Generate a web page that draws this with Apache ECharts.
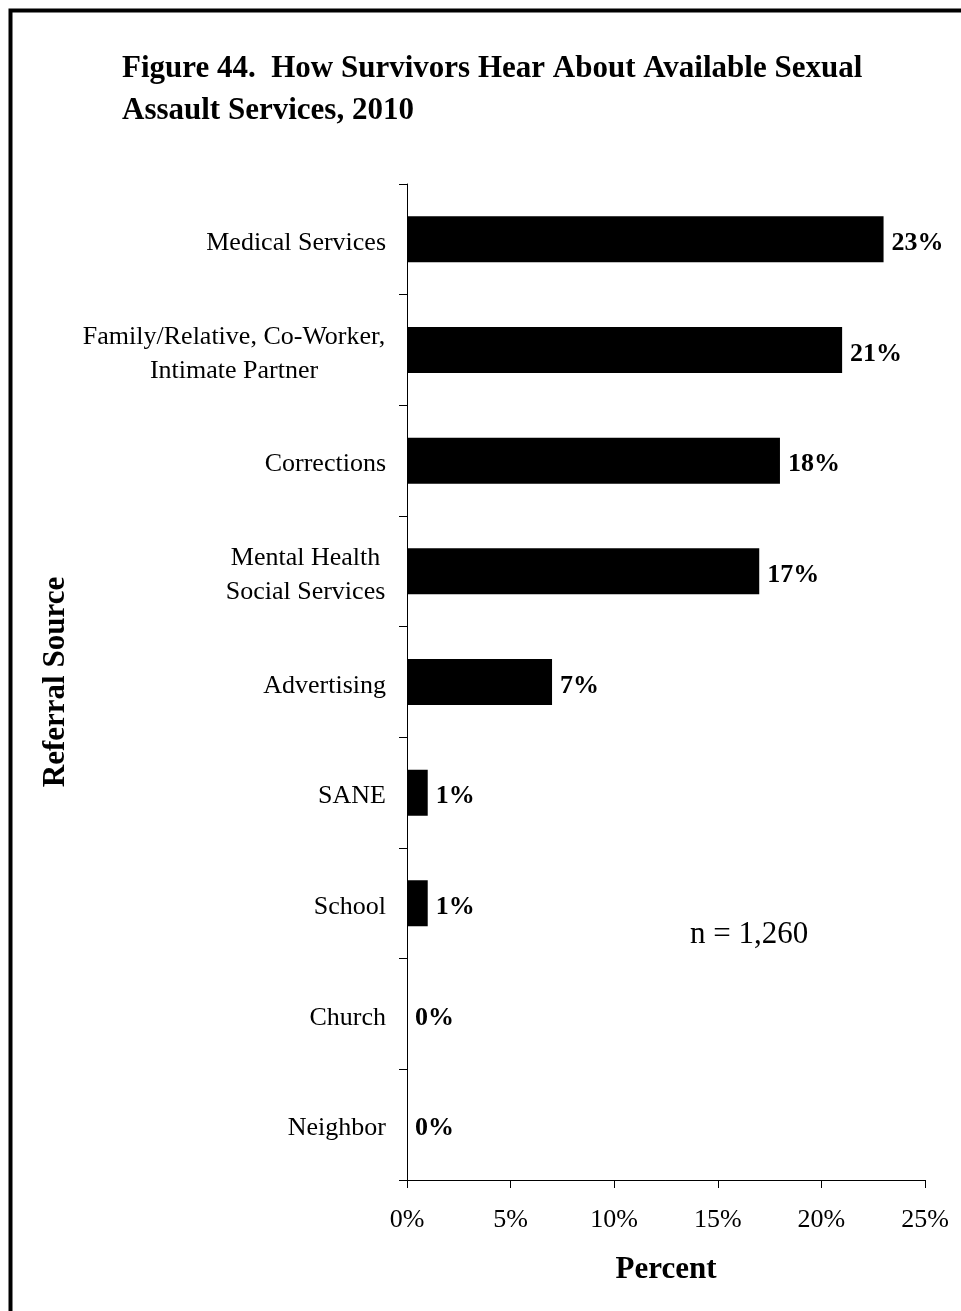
<!DOCTYPE html>
<html>
<head>
<meta charset="utf-8">
<script src="https://cdn.jsdelivr.net/npm/echarts@6/dist/echarts.min.js"></script>
<style>
html,body{margin:0;padding:0;background:#fff;}
#chart{width:961px;height:1311px;}
</style>
</head>
<body>
<div id="chart"></div>
<script>
// ---- data ----
var titleText = 'Figure 44.  How Survivors Hear About Available Sexual\nAssault Services, 2010';
var categories = [
  'Medical Services',
  'Family/Relative, Co-Worker,\nIntimate Partner',
  'Corrections',
  'Mental Health\nSocial Services',
  'Advertising',
  'SANE',
  'School',
  'Church',
  'Neighbor'
];
var values = [23, 21, 18, 17, 7, 1, 1, 0, 0];
var xTickLabels = ['0%', '5%', '10%', '15%', '20%', '25%'];
var yAxisTitle = 'Referral Source';
var xAxisTitle = 'Percent';
var noteText = 'n = 1,260';

// ---- measuring helper for centered multi-line labels ----
var SERIF = '"Liberation Serif", "Times New Roman", serif';
var mctx = document.createElement('canvas').getContext('2d');
mctx.font = '26px ' + SERIF;
function maxLineWidth(s) {
  return Math.ceil(Math.max.apply(null, s.split('\n').map(function (l) { return mctx.measureText(l).width; })));
}
var richStyles = {};
categories.forEach(function (c, i) {
  if (c.indexOf('\n') >= 0) {
    richStyles['m' + i] = { width: maxLineWidth(c) + 1, align: 'center', fontSize: 26, fontFamily: SERIF, lineHeight: 34, color: '#000' };
  }
});

var chart = echarts.init(document.getElementById('chart'), null, { renderer: 'canvas' });
chart.setOption({
  backgroundColor: '#fff',
  animation: false,
  title: {
    text: titleText,
    left: 122,
    top: 48,
    padding: 0,
    textStyle: { fontFamily: SERIF, fontWeight: 'bold', fontSize: 31, lineHeight: 42, color: '#000' }
  },
  graphic: [
    {
      type: 'rect',
      shape: { x: 10.5, y: 10.5, width: 1100, height: 1500 },
      style: { fill: 'none', stroke: '#000', lineWidth: 4 },
      silent: true
    },
    {
      type: 'text',
      left: 690,
      top: 919,
      style: { text: noteText, font: '31px ' + SERIF, fill: '#000' }
    }
  ],
  grid: { left: 407, right: 36, top: 184, bottom: 131, containLabel: false },
  xAxis: {
    type: 'value',
    min: 0,
    max: 25,
    interval: 5,
    name: xAxisTitle,
    nameLocation: 'middle',
    nameGap: 74,
    nameTextStyle: { fontFamily: SERIF, fontWeight: 'bold', fontSize: 31, color: '#000' },
    axisLine: { show: true, lineStyle: { color: '#000', width: 1 } },
    axisTick: { show: true, length: 8, lineStyle: { color: '#000' } },
    splitLine: { show: false },
    axisLabel: {
      margin: 27,
      fontFamily: SERIF, fontSize: 26, color: '#000',
      formatter: function (v) { return xTickLabels[Math.round(v / 5)]; }
    }
  },
  yAxis: {
    type: 'category',
    data: categories,
    inverse: true,
    name: yAxisTitle,
    nameLocation: 'middle',
    nameRotate: 90,
    nameGap: 320,
    nameTextStyle: { fontFamily: SERIF, fontWeight: 'bold', fontSize: 31, color: '#000' },
    axisLine: { show: true, lineStyle: { color: '#000', width: 1 } },
    axisTick: { show: true, length: 8, alignWithLabel: false, lineStyle: { color: '#000' } },
    axisLabel: {
      interval: 0,
      margin: 21,
      padding: [8, 0, 0, 0],
      fontFamily: SERIF, fontSize: 26, color: '#000', lineHeight: 34,
      formatter: function (v) {
        var i = categories.indexOf(v);
        if (richStyles['m' + i]) return '{m' + i + '|' + v + '}';
        return v;
      },
      rich: richStyles
    }
  },
  series: [{
    type: 'bar',
    data: values,
    barWidth: 46,
    itemStyle: { color: '#000' },
    label: {
      show: true,
      position: 'right',
      distance: 8,
      offset: [0, 4],
      formatter: '{c}%',
      fontFamily: SERIF, fontWeight: 'bold', fontSize: 26, color: '#000'
    }
  }]
});
</script>
</body>
</html>
